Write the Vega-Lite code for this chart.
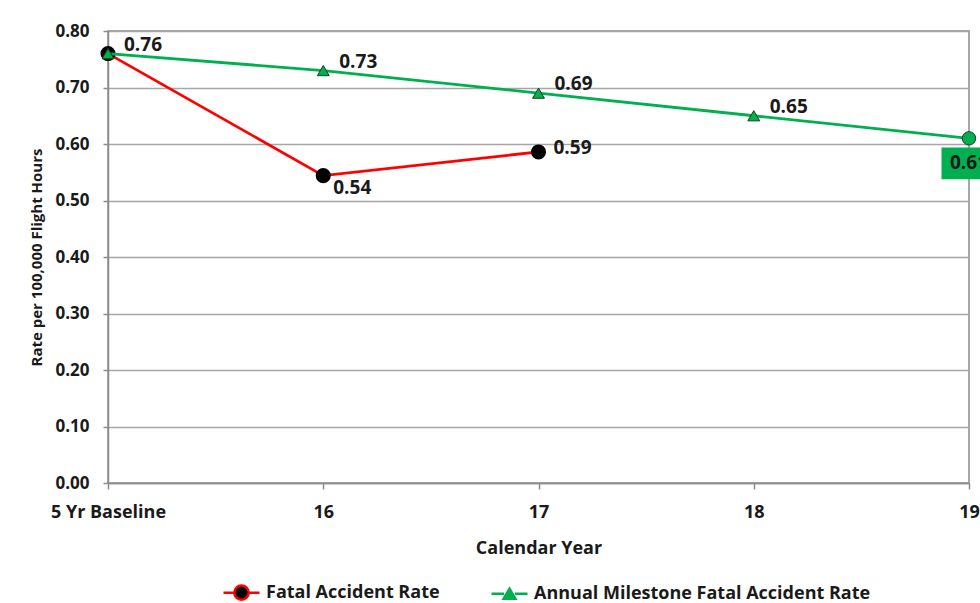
{
  "$schema": "https://vega.github.io/schema/vega-lite/v6.json",
  "autosize": {"type": "none"},
  "width": 861,
  "height": 452,
  "padding": {"left": 108, "top": 31, "right": 11, "bottom": 120},
  "background": "white",
  "config": {
    "font": "Open Sans",
    "view": {"stroke": "#8c8c8c", "strokeWidth": 1.5},
    "axis": {"labelFont": "Open Sans", "titleFont": "Open Sans", "labelFontWeight": "bold", "titleFontWeight": "bold", "labelColor": "#1a1a1a", "titleColor": "#1a1a1a"}
  },
  "data": {
    "values": [
      {"year": "5 Yr Baseline", "series": "Fatal Accident Rate", "rate": 0.76},
      {"year": "16", "series": "Fatal Accident Rate", "rate": 0.544},
      {"year": "17", "series": "Fatal Accident Rate", "rate": 0.586},
      {"year": "5 Yr Baseline", "series": "Annual Milestone Fatal Accident Rate", "rate": 0.76},
      {"year": "16", "series": "Annual Milestone Fatal Accident Rate", "rate": 0.73},
      {"year": "17", "series": "Annual Milestone Fatal Accident Rate", "rate": 0.69},
      {"year": "18", "series": "Annual Milestone Fatal Accident Rate", "rate": 0.65},
      {"year": "19", "series": "Annual Milestone Fatal Accident Rate", "rate": 0.61}
    ]
  },
  "encoding": {
    "x": {
      "field": "year", "type": "ordinal",
      "sort": ["5 Yr Baseline", "16", "17", "18", "19"],
      "scale": {"type": "point", "padding": 0},
      "axis": {
        "title": "Calendar Year", "labelAngle": 0, "labelFontSize": 18, "titleFontSize": 18,
        "labelPadding": 14, "titlePadding": 18, "tickSize": 6, "tickColor": "#8c8c8c", "tickWidth": 1.5,
        "domainColor": "#8c8c8c", "domainWidth": 1.5, "grid": false, "labelOverlap": false
      }
    },
    "y": {
      "field": "rate", "type": "quantitative",
      "scale": {"domain": [0, 0.8], "nice": false},
      "axis": {
        "title": "Rate per 100,000 Flight Hours", "format": ".2f", "values": [0, 0.1, 0.2, 0.3, 0.4, 0.5, 0.6, 0.7, 0.8],
        "labelOverlap": false,
        "labelFontSize": 17, "titleFontSize": 15, "labelPadding": 14, "titlePadding": 10,
        "tickSize": 5, "tickColor": "#8c8c8c", "tickWidth": 1.5,
        "domainColor": "#8c8c8c", "domainWidth": 1.5,
        "gridColor": "#a6a6a6", "gridWidth": 1.5
      }
    }
  },
  "layer": [
    {
      "transform": [{"filter": "datum.series == 'Fatal Accident Rate'"}],
      "mark": {"type": "line", "strokeWidth": 2.8},
      "encoding": {
        "color": {
          "field": "series", "type": "nominal",
          "scale": {"domain": ["Fatal Accident Rate", "Annual Milestone Fatal Accident Rate"], "range": ["#FF0000", "#00B050"]},
          "legend": {
            "title": null, "orient": "none", "direction": "horizontal", "legendX": 114, "legendY": 542,
            "labelFontSize": 18, "labelFontWeight": "bold", "labelFont": "Open Sans", "labelColor": "#1a1a1a", "labelLimit": 500,
            "symbolSize": 1296, "symbolStrokeWidth": 2.5, "labelOffset": 5, "columnPadding": 46,
            "encode": {
              "symbols": {
                "update": {
                  "shape": {"signal": "datum.value == 'Fatal Accident Rate' ? 'M-1,0H-0.4M0.4,0H1M-0.4,0A0.4,0.4 0 1,1 0.4,0A0.4,0.4 0 1,1 -0.4,0Z' : 'M-1,0H-0.3M0.3,0H1M-0.33,0.28L0,-0.28L0.33,0.28Z'"},
                  "fill": {"signal": "datum.value == 'Fatal Accident Rate' ? '#000000' : '#00B050'"},
                  "stroke": {"signal": "datum.value == 'Fatal Accident Rate' ? '#FF0000' : '#00B050'"},
                  "strokeWidth": {"value": 2.5},
                  "opacity": {"value": 1},
                  "fillOpacity": {"value": 1}
                }
              }
            }
          }
        }
      }
    },
    {
      "transform": [{"filter": "datum.series == 'Fatal Accident Rate'"}],
      "mark": {"type": "point", "shape": "circle", "filled": true, "fill": "#000000", "stroke": "#000000", "size": 170, "opacity": 1}
    },
    {
      "transform": [{"filter": "datum.series != 'Fatal Accident Rate'"}],
      "mark": {"type": "line", "strokeWidth": 2.8},
      "encoding": {
        "color": {"field": "series", "type": "nominal"}
      }
    },
    {
      "transform": [{"filter": "datum.series != 'Fatal Accident Rate' && datum.year != '19'"}],
      "mark": {"type": "point", "shape": "triangle-up", "filled": true, "fill": "#00B050", "stroke": "#1e3a1e", "strokeWidth": 1, "size": 140, "opacity": 1}
    },
    {
      "transform": [{"filter": "datum.series != 'Fatal Accident Rate' && datum.year == '19'"}],
      "mark": {"type": "point", "shape": "circle", "filled": true, "fill": "#00B050", "stroke": "#1e3a1e", "strokeWidth": 1, "size": 180, "opacity": 1}
    },
    {
      "transform": [{"filter": "datum.series != 'Fatal Accident Rate' && datum.year != '19'"}],
      "mark": {"type": "text", "align": "left", "baseline": "middle", "dx": 16, "dy": -9, "fontSize": 19, "fontWeight": "bold", "font": "Open Sans", "color": "#1a1a1a"},
      "encoding": {"text": {"field": "rate", "type": "quantitative", "format": ".2f"}}
    },
    {
      "transform": [{"filter": "datum.series == 'Fatal Accident Rate' && datum.year == '16'"}],
      "mark": {"type": "text", "align": "left", "baseline": "middle", "dx": 10, "dy": 12, "fontSize": 19, "fontWeight": "bold", "font": "Open Sans", "color": "#1a1a1a"},
      "encoding": {"text": {"field": "rate", "type": "quantitative", "format": ".2f"}}
    },
    {
      "transform": [{"filter": "datum.series == 'Fatal Accident Rate' && datum.year == '17'"}],
      "mark": {"type": "text", "align": "left", "baseline": "middle", "dx": 15, "dy": -4, "fontSize": 19, "fontWeight": "bold", "font": "Open Sans", "color": "#1a1a1a"},
      "encoding": {"text": {"field": "rate", "type": "quantitative", "format": ".2f"}}
    },
    {
      "transform": [{"filter": "datum.series != 'Fatal Accident Rate' && datum.year == '19'"}],
      "mark": {"type": "point", "shape": "M-1,-0.58H1V0.58H-1Z", "filled": true, "fill": "#00B050", "strokeWidth": 0, "size": 3025, "opacity": 1, "yOffset": 25}
    },
    {
      "transform": [{"filter": "datum.series != 'Fatal Accident Rate' && datum.year == '19'"}],
      "mark": {"type": "text", "align": "center", "baseline": "middle", "yOffset": 25, "fontSize": 19, "fontWeight": "bold", "font": "Open Sans", "color": "#1a1a1a"},
      "encoding": {"text": {"field": "rate", "type": "quantitative", "format": ".2f"}}
    }
  ]
}
